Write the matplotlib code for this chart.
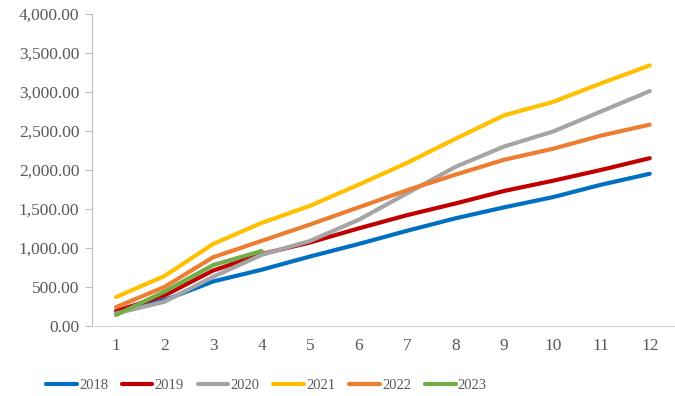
import matplotlib.pyplot as plt
from matplotlib.ticker import FuncFormatter

months = list(range(1, 13))

# monthly cumulative values
y2018 = [180, 330, 570, 720, 890, 1050, 1220, 1380, 1520, 1650, 1810, 1950]
y2019 = [190, 390, 710, 920, 1070, 1250, 1420, 1570, 1730, 1860, 2000, 2150]
y2020 = [160, 310, 630, 910, 1090, 1360, 1700, 2040, 2300, 2490, 2750, 3010]
y2021 = [370, 640, 1050, 1320, 1540, 1810, 2090, 2400, 2700, 2870, 3110, 3340]
y2022 = [240, 500, 880, 1090, 1300, 1520, 1740, 1940, 2130, 2270, 2440, 2580]
y2023 = [140, 440, 780, 960]

series = [
    ("2018", y2018, "#0070C0"),
    ("2019", y2019, "#C00000"),
    ("2020", y2020, "#A5A5A5"),
    ("2021", y2021, "#FFC000"),
    ("2022", y2022, "#ED7D31"),
    ("2023", y2023, "#70AD47"),
]

plt.rcParams["font.family"] = ["Liberation Serif", "DejaVu Serif"]

fig = plt.figure(figsize=(6.75, 3.96), dpi=100)
ax = fig.add_axes([0.136, 0.177, 0.8625, 0.788])

for name, vals, color in series:
    ax.plot(months[:len(vals)], vals, color=color, linewidth=3,
            solid_capstyle="round", label=name)

ax.set_xlim(0.5, 12.5)
ax.set_ylim(0, 4000)
ax.set_xticks(months)
ax.set_yticks(range(0, 4001, 500))
ax.yaxis.set_major_formatter(FuncFormatter(lambda v, p: f"{v:,.2f}"))

for side in ["top", "right"]:
    ax.spines[side].set_visible(False)
ax.spines["left"].set_color("#BFBFBF")
ax.spines["bottom"].set_color("#D9D9D9")
ax.tick_params(axis="y", length=5, color="#BFBFBF", labelsize=12.5,
               labelcolor="#595959", pad=4)
ax.tick_params(axis="x", length=0, labelsize=12.5, labelcolor="#595959", pad=9)

ax.legend(loc="center", bbox_to_anchor=(0.30, -0.19), ncol=6, frameon=False,
          fontsize=10.5, handlelength=2.1, handletextpad=0.15, columnspacing=0.95,
          labelcolor="#595959")

fig.savefig("out.png")
